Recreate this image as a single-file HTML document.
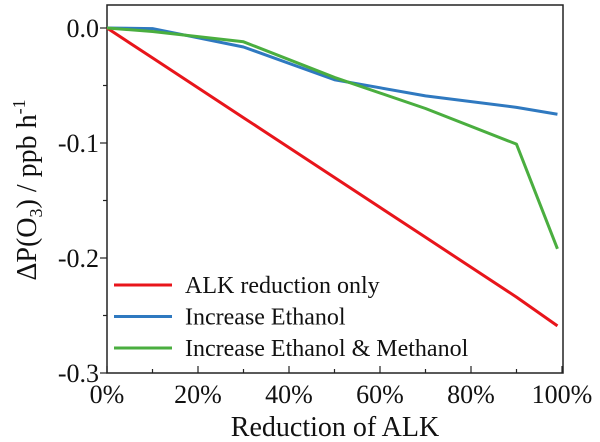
<!DOCTYPE html>
<html><head><meta charset="utf-8"><style>
body{margin:0;background:#fff}
svg{display:block}
text{font-family:"Liberation Serif","Times New Roman",Times,"DejaVu Serif",serif}
</style></head><body>
<svg id="c" width="600" height="442" viewBox="0 0 600 442"></svg>
<script>
const xs=[0,10,30,50,70,90,99];
const redVals=[0,-0.026,-0.078,-0.13,-0.182,-0.234,-0.259];
const blueVals=[0,-0.0005,-0.0165,-0.045,-0.059,-0.069,-0.075];
const greenVals=[0,-0.003,-0.012,-0.043,-0.07,-0.101,-0.192];
const xTicks=[0,20,40,60,80,100];
const xTickLabels=["0%","20%","40%","60%","80%","100%"];
const yTicks=[0,-0.1,-0.2,-0.3];
const yTickLabels=["0.0","-0.1","-0.2","-0.3"];
const seriesNames=["ALK reduction only","Increase Ethanol","Increase Ethanol & Methanol"];
const NS="http://www.w3.org/2000/svg",svg=document.getElementById('c');
const L=107,R=563,T=5,B=373;
const X=v=>107+v*4.55, Y=v=>28-v*1150;
function el(t,a,p){const e=document.createElementNS(NS,t);for(const k in a)e.setAttribute(k,a[k]);(p||svg).appendChild(e);return e;}
const box=el('rect',{x:L,y:T,width:R-L,height:B-T,fill:'none',stroke:'#222','stroke-width':1.5});

for(let i=0;i<=10;i++){const v=i*10;const len=i%2?4:7;
 const t=el('line',{x1:X(v),x2:X(v),y1:B,y2:B-len,stroke:'#222','stroke-width':1.2});
 }
xTicks.forEach((v,i)=>{const t=el('text',{x:X(v),y:B+30,'text-anchor':'middle','font-size':26,fill:'#111'});t.textContent=xTickLabels[i];
 });
for(let i=0;i<=6;i++){const v=-i*0.05;if(Y(v)<T)continue;const len=i%2?4:7;
 const t=el('line',{x1:L,x2:L-len,y1:Y(v),y2:Y(v),stroke:'#222','stroke-width':1.2});
 }
yTicks.forEach((v,i)=>{const t=el('text',{x:L-8,y:Y(v)+9,'text-anchor':'end','font-size':26,fill:'#111'});t.textContent=yTickLabels[i];
 });
const xt=el('text',{x:335,y:436,'text-anchor':'middle','font-size':28,fill:'#111'});xt.textContent='Reduction of ALK';

const yt=el('text',{transform:'translate(36,190) rotate(-90)','text-anchor':'middle','font-size':28,fill:'#111'});
yt.innerHTML='ΔP(O<tspan font-size="18" dy="6">3</tspan><tspan dy="-6">) / ppb h</tspan><tspan font-size="18" dy="-11">-1</tspan>';

const cols=['#e8151b','#2f79c0','#4aae3f'];
[redVals,blueVals,greenVals].forEach((vals,s)=>{
 const p=el('polyline',{points:xs.map((x,i)=>X(x)+','+Y(vals[i])).join(' '),fill:'none',stroke:cols[s],'stroke-width':3,'stroke-linejoin':'round'});
 
 const ly=285+s*31.5;
 const ll=el('line',{x1:114,x2:172,y1:ly,y2:ly,stroke:cols[s],'stroke-width':3});
 
 const lt=el('text',{x:185,y:ly+8,'font-size':24,fill:'#111'});lt.textContent=seriesNames[s];
 
});
</script>
</body></html>
